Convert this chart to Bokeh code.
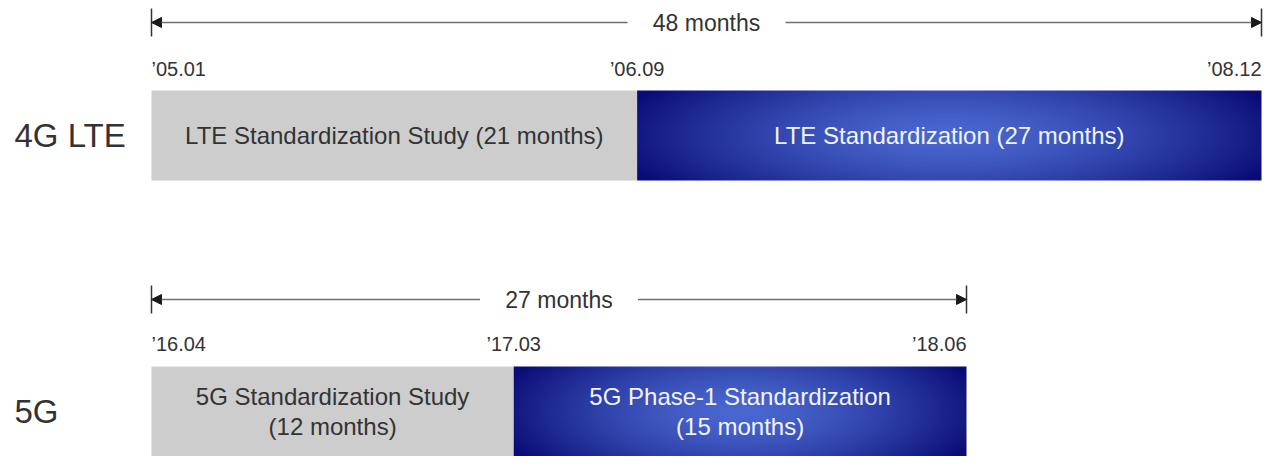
import numpy as np
from bokeh.plotting import figure
from bokeh.models import Range1d, Arrow, NormalHead, Label
from bokeh.core.properties import value
from bokeh.embed import file_html
from bokeh.resources import INLINE

# ---------------- data ----------------
rows = ["4G LTE", "5G"]
study_months = [21, 12]
std_months = [27, 15]
study_text = ["LTE Standardization Study (21 months)", "5G Standardization Study\n(12 months)"]
std_text = ["LTE Standardization (27 months)", "5G Phase-1 Standardization\n(15 months)"]
span_text = ["48 months", "27 months"]
milestones = [["\u201905.01", "\u201906.09", "\u201908.12"],
              ["\u201916.04", "\u201917.03", "\u201918.06"]]

# ---------------- layout ----------------
W, H = 1268, 456
X0 = 151                      # screen px of month 0
end_px = [1261, 966]          # screen px of the end of each timeline
bar_cy = [321, 45]
bar_h = 90
arrow_y = [434, 157]
date_y = [388, 113]
GAP_PX = 79

FONT = "Liberation Sans"
TXT = "#333333"

def gradient(w=500, h=70):
    u = (np.arange(w) + 0.5) / w
    v = (np.arange(h) + 0.5) / h
    U, V = np.meshgrid(u, v)
    r = np.sqrt(((U - 0.5) / 0.55) ** 2 + ((V - 0.5) / 1.0) ** 2)
    t = np.clip(r, 0, 1) ** 1.5
    dark = np.array([10, 12, 118], dtype=float)
    light = np.array([74, 104, 208], dtype=float)
    rgb = light[None, None, :] * (1 - t)[..., None] + dark[None, None, :] * t[..., None]
    img = np.empty((h, w), dtype=np.uint32)
    view = img.view(dtype=np.uint8).reshape((h, w, 4))
    view[..., :3] = rgb.astype(np.uint8)
    view[..., 3] = 255
    return img

ranges = []
for i in range(2):
    total = study_months[i] + std_months[i]
    ppm = (end_px[i] - X0) / total
    ranges.append((ppm, Range1d(-X0 / ppm, (W - X0) / ppm)))

p = figure(width=W, height=H, x_range=ranges[0][1], y_range=Range1d(0, H),
           output_backend="svg", toolbar_location=None, min_border=0,
           x_axis_location=None, y_axis_location=None,
           outline_line_color=None, background_fill_color="white",
           border_fill_color="white")
p.grid.visible = False
p.extra_x_ranges = {"r1": ranges[1][1]}
names = ["default", "r1"]

for i in range(2):
    nm = names[i]
    ppm = ranges[i][0]
    s = study_months[i]
    d = std_months[i]
    total = s + d
    cy = bar_cy[i]
    # bars
    p.quad(left=[0], right=[s], bottom=[cy - bar_h / 2], top=[cy + bar_h / 2],
           fill_color="#cdcdcd", line_color=None, x_range_name=nm)
    p.image_rgba(image=[gradient()], x=[s], y=[cy - bar_h / 2], dw=[d], dh=[bar_h],
                 x_range_name=nm)
    # bar texts
    p.text(x=[s / 2], y=[cy], text=[study_text[i]], text_align="center",
           text_baseline="middle", text_font=value(FONT), text_font_size="24px",
           text_color=TXT, text_line_height=1.09, x_range_name=nm)
    p.text(x=[s + d / 2], y=[cy], text=[std_text[i]], text_align="center",
           text_baseline="middle", text_font=value(FONT), text_font_size="24px",
           text_color="#f2f4fb", text_line_height=1.09, x_range_name=nm)
    # span arrows
    ay = arrow_y[i]
    mid = total / 2
    gap = GAP_PX / ppm
    for xs, xe in [(mid - gap, 0), (mid + gap, total)]:
        p.add_layout(Arrow(end=NormalHead(size=10, fill_color="#1a1a1a", line_color="#1a1a1a"),
                           x_start=xs, y_start=ay, x_end=xe, y_end=ay,
                           line_color="#707070", line_width=1.6, x_range_name=nm))
    p.segment(x0=[0, total], y0=[ay - 14, ay - 14], x1=[0, total], y1=[ay + 14, ay + 14],
              line_color="#333333", line_width=1.5, x_range_name=nm)
    p.text(x=[mid], y=[ay], text=[span_text[i]], text_align="center",
           text_baseline="middle", text_font=value(FONT), text_font_size="23px",
           text_color=TXT, x_range_name=nm)
    # milestone dates
    for xv, al, lab in zip([0, s, total], ["left", "center", "right"], milestones[i]):
        p.text(x=[xv], y=[date_y[i]], text=[lab], text_align=al,
               text_baseline="middle", text_font=value(FONT), text_font_size="20px",
               text_color=TXT, x_range_name=nm)
    # row label
    p.add_layout(Label(x=14, x_units="screen", y=cy, text=rows[i],
                       text_font=FONT, text_font_size="33px",
                       text_baseline="middle", text_color=TXT))

open("out.html", "w").write(file_html(p, INLINE))
